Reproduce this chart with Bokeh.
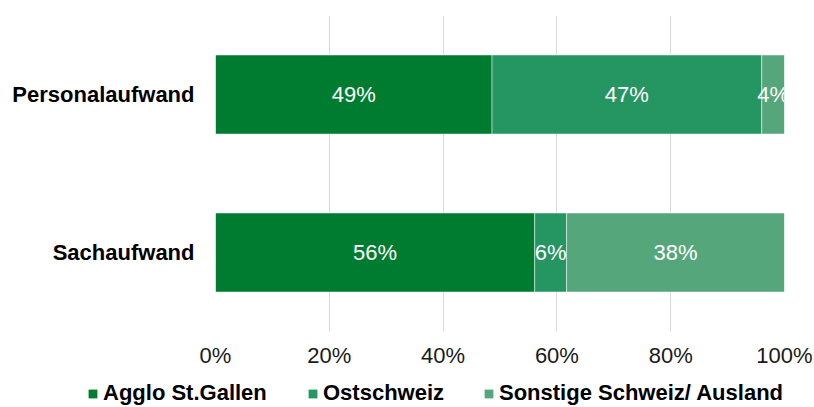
from bokeh.plotting import figure
from bokeh.layouts import column
from bokeh.models import (ColumnDataSource, FactorRange, Range1d, FixedTicker,
                          PrintfTickFormatter, Legend, LegendItem)
from bokeh.core.properties import value
from bokeh.embed import file_html
from bokeh.resources import INLINE
import numpy as np

categories = ["Personalaufwand", "Sachaufwand"]
series_names = ["Agglo St.Gallen", "Ostschweiz", "Sonstige Schweiz/ Ausland"]
agglo = [48.6, 56.1]
ost = [47.4, 5.6]
sonstige = [4.0, 38.3]
x_ticks = [0, 20, 40, 60, 80, 100]

colors = ["#007C30", "#259562", "#55A77B"]
FONT = "Liberation Sans"
W = 814

p = figure(width=W, height=380, output_backend="svg", toolbar_location=None,
           y_range=FactorRange(factors=list(reversed(categories)), range_padding=0),
           x_range=Range1d(0, 100),
           min_border_left=215, min_border_right=W - 784, min_border_top=15,
           min_border_bottom=49)
p.frame_align = False

vals = [agglo, ost, sonstige]
left = np.zeros(len(categories))
for name, v, c in zip(series_names, vals, colors):
    v = np.array(v, dtype=float)
    src = ColumnDataSource(dict(y=categories, left=left, right=left + v))
    p.hbar(y="y", left="left", right="right", height=0.5, source=src,
           fill_color=c, line_color="white", line_width=0.8, line_alpha=0.6)
    lsrc = ColumnDataSource(dict(y=categories, x=left + v / 2,
                                 t=[f"{x:.0f}%" for x in v]))
    p.text(x="x", y="y", text="t", source=lsrc, text_color="white",
           text_font=value(FONT), text_font_size="22px",
           text_align="center", text_baseline="middle")
    left = left + v

p.xaxis.ticker = FixedTicker(ticks=x_ticks)
p.xaxis.formatter = PrintfTickFormatter(format="%d%%")
for ax in (p.xaxis[0], p.yaxis[0]):
    ax.axis_line_color = None
    ax.major_tick_line_color = None
    ax.minor_tick_line_color = None
    ax.major_tick_out = 0
    ax.major_tick_in = 0
    ax.major_label_text_font = FONT
    ax.major_label_text_font_size = "22px"
    ax.major_label_text_color = "#1a1a1a"
p.xaxis.major_label_standoff = 11
p.yaxis.major_label_standoff = 21
p.yaxis.major_label_text_font_style = "bold"
p.yaxis.major_label_text_color = "#000000"

p.xgrid.grid_line_color = "#d9d9d9"
p.xgrid.grid_line_width = 1
p.ygrid.grid_line_color = None
p.outline_line_color = None

# legend strip
lg = figure(width=W, height=27, output_backend="svg", toolbar_location=None,
            x_range=Range1d(0, 1), y_range=Range1d(0, 1),
            min_border_left=0, min_border_right=0, min_border_top=0, min_border_bottom=0)
lg.frame_align = False
lg.axis.visible = False
lg.grid.visible = False
lg.outline_line_color = None
legend_x = [87, 307, 483]
for name, c, lx in zip(series_names, colors, legend_x):
    r = lg.hbar(y=[5], left=[5], right=[6], height=0.5, fill_color=c, line_color=None)
    leg = Legend(items=[LegendItem(label=name, renderers=[r])],
                 location=(lx, 1), glyph_width=11, glyph_height=11,
                 label_standoff=5, padding=0, margin=0, border_line_color=None,
                 background_fill_alpha=0, label_text_font=FONT,
                 label_text_font_size="22px", label_text_font_style="bold",
                 label_text_color="#000000", label_height=22)
    lg.add_layout(leg, "center")

layout = column(p, lg, spacing=0)
open("out.html", "w").write(file_html(layout, INLINE))
